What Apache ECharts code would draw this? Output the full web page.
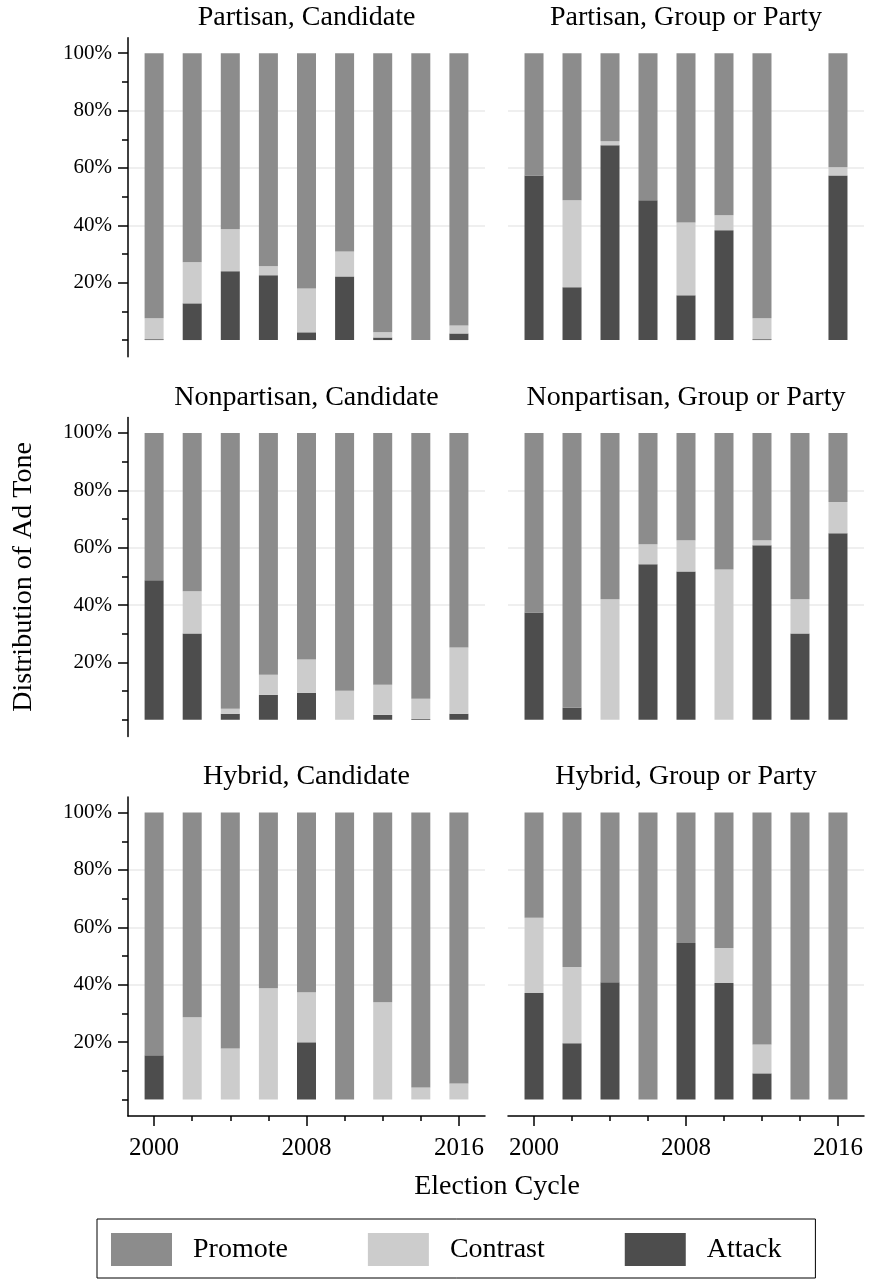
<!DOCTYPE html>
<html>
<head>
<meta charset="utf-8">
<script src="https://cdn.jsdelivr.net/npm/echarts@6/dist/echarts.min.js"></script>
<style>
html,body{margin:0;padding:0;background:#ffffff;}
#chart{width:869px;height:1279px;}
</style>
</head>
<body>
<div id="chart"></div>
<script>
// ---------------- data ----------------
const years = [2000, 2002, 2004, 2006, 2008, 2010, 2012, 2014, 2016];
const xTickMajor = [2000, 2008, 2016];
const xTickMinor = [2002, 2004, 2006, 2010, 2012, 2014];
const yTickMajor = [20, 40, 60, 80, 100];
const yTickMinor = [0, 10, 30, 50, 70, 90];
const seriesNames = ['Promote', 'Contrast', 'Attack'];
const panelTitles = [
  'Partisan, Candidate', 'Partisan, Group or Party',
  'Nonpartisan, Candidate', 'Nonpartisan, Group or Party',
  'Hybrid, Candidate', 'Hybrid, Group or Party'
];
const xAxisTitle = 'Election Cycle';
const yAxisTitle = 'Distribution of Ad Tone';

// Partisan, Candidate
const partisanCandAttack   = [0.3, 12.8, 24.0, 22.6, 2.7, 22.2, 0.9, 0, 2.3];
const partisanCandContrast = [7.3, 14.3, 14.6, 3.1, 15.3, 8.7, 1.8, 0, 2.8];
const partisanCandPromote  = [92.4, 72.9, 61.4, 74.3, 82.0, 69.1, 97.3, 100, 94.9];
// Partisan, Group or Party (no 2014 data)
const partisanGroupAttack   = [57.4, 18.4, 67.9, 48.7, 15.6, 38.3, 0.3, '-', 57.4];
const partisanGroupContrast = [0, 30.3, 1.4, 0, 25.4, 5.2, 7.3, '-', 2.8];
const partisanGroupPromote  = [42.6, 51.3, 30.7, 51.3, 59.0, 56.5, 92.4, '-', 39.8];
// Nonpartisan, Candidate
const nonpartCandAttack   = [48.6, 30.1, 2.1, 8.7, 9.4, 0, 1.7, 0.3, 2.1];
const nonpartCandContrast = [0, 14.7, 1.7, 7.0, 11.6, 10.1, 10.5, 7.0, 23.1];
const nonpartCandPromote  = [51.4, 55.2, 96.2, 84.3, 79.0, 89.9, 87.8, 92.7, 74.8];
// Nonpartisan, Group or Party
const nonpartGroupAttack   = [37.4, 4.2, 0, 54.2, 51.7, 0, 60.8, 30.1, 65.0];
const nonpartGroupContrast = [0, 0, 42.0, 7.0, 10.9, 52.4, 1.8, 11.9, 10.9];
const nonpartGroupPromote  = [62.6, 95.8, 58.0, 38.8, 37.4, 47.6, 37.4, 58.0, 24.1];
// Hybrid, Candidate
const hybridCandAttack   = [15.4, 0, 0, 0, 19.9, 0, 0, 0, 0];
const hybridCandContrast = [0, 28.7, 17.8, 38.8, 17.5, 0, 33.9, 4.2, 5.6];
const hybridCandPromote  = [84.6, 71.3, 82.2, 61.2, 62.6, 100, 66.1, 95.8, 94.4];
// Hybrid, Group or Party
const hybridGroupAttack   = [37.1, 19.6, 40.9, 0, 54.5, 40.6, 9.1, 0, 0];
const hybridGroupContrast = [26.2, 26.6, 0, 0, 0, 12.2, 10.1, 0, 0];
const hybridGroupPromote  = [36.7, 53.8, 59.1, 100, 45.5, 47.2, 80.8, 100, 100];

const panelData = [
  {Attack: partisanCandAttack, Contrast: partisanCandContrast, Promote: partisanCandPromote},
  {Attack: partisanGroupAttack, Contrast: partisanGroupContrast, Promote: partisanGroupPromote},
  {Attack: nonpartCandAttack, Contrast: nonpartCandContrast, Promote: nonpartCandPromote},
  {Attack: nonpartGroupAttack, Contrast: nonpartGroupContrast, Promote: nonpartGroupPromote},
  {Attack: hybridCandAttack, Contrast: hybridCandContrast, Promote: hybridCandPromote},
  {Attack: hybridGroupAttack, Contrast: hybridGroupContrast, Promote: hybridGroupPromote}
];

// ---------------- style / layout ----------------
const FONT = 'Liberation Serif';
const colors = {Promote: '#8c8c8c', Contrast: '#cccccc', Attack: '#4d4d4d'};
const colLeft = [128, 508];
const colWidth = [357, 356];
const rowTop = [37.7, 417.4, 797.1];
const rowHeight = 319;
const xMin = 1998.63, xMax = 2017.37;
const yMin = -5.8, yMax = 105.4;
const axisColor = '#000000';
const gridColor = '#efefef';

const grids = [], xAxes = [], yAxes = [], series = [], titles = [];

for (let r = 0; r < 3; r++) {
  for (let c = 0; c < 2; c++) {
    const g = r * 2 + c;
    grids.push({
      left: colLeft[c], top: rowTop[r], width: colWidth[c], height: rowHeight,
      containLabel: false, outerBoundsMode: 'none'
    });
    titles.push({
      text: panelTitles[g],
      left: colLeft[c] + colWidth[c] / 2,
      top: rowTop[r] - 34,
      textAlign: 'center',
      padding: 0,
      textStyle: {fontFamily: FONT, fontSize: 28, fontWeight: 'normal', color: '#000'}
    });
    const bottomRow = r === 2;
    const mainX = xAxes.length;
    xAxes.push({
      gridIndex: g, type: 'value', min: xMin, max: xMax, position: 'bottom',
      show: bottomRow,
      axisLine: {show: true, onZero: false, lineStyle: {color: axisColor, width: 1.5}},
      axisTick: {show: true, length: 10, customValues: xTickMajor, lineStyle: {color: axisColor, width: 1.5}},
      axisLabel: {show: true, customValues: xTickMajor, margin: 20, fontFamily: FONT, fontSize: 25, color: '#000',
                  formatter: v => String(v)},
      splitLine: {show: false}
    });
    if (bottomRow) {
      xAxes.push({
        gridIndex: g, type: 'value', min: xMin, max: xMax, position: 'bottom',
        axisLine: {show: false, onZero: false},
        axisTick: {show: true, length: 5, customValues: xTickMinor, lineStyle: {color: axisColor, width: 1.5}},
        axisLabel: {show: false},
        splitLine: {show: false}
      });
    }
    const mainY = yAxes.length;
    const leftCol = c === 0;
    yAxes.push({
      gridIndex: g, type: 'value', min: yMin, max: yMax, position: 'left',
      name: (leftCol && r === 1) ? yAxisTitle : '',
      nameLocation: 'middle', nameGap: 90,
      nameTextStyle: {fontFamily: FONT, fontSize: 28, color: '#000'},
      axisLine: {show: leftCol, onZero: false, lineStyle: {color: axisColor, width: 1.5}},
      axisTick: {show: leftCol, length: 10, customValues: yTickMajor, lineStyle: {color: axisColor, width: 1.5}},
      axisLabel: {show: leftCol, customValues: yTickMajor, margin: 16, fontFamily: FONT, fontSize: 21, color: '#000',
                  formatter: v => v + '%'},
      splitLine: {show: true, showMinLine: false, showMaxLine: false, lineStyle: {color: gridColor, width: 2}}
    });
    if (leftCol) {
      yAxes.push({
        gridIndex: g, type: 'value', min: yMin, max: yMax, position: 'left', offset: 0,
        axisLine: {show: false, onZero: false},
        axisTick: {show: true, length: 6, customValues: yTickMinor, lineStyle: {color: axisColor, width: 1.5}},
        axisLabel: {show: false},
        splitLine: {show: false}
      });
    }
    ['Attack', 'Contrast', 'Promote'].forEach(name => {
      const vals = panelData[g][name];
      series.push({
        type: 'bar', name: name, stack: 'panel' + g,
        xAxisIndex: mainX, yAxisIndex: mainY,
        barWidth: 19,
        encode: {x: 1, y: 0},
        itemStyle: {color: colors[name]},
        emphasis: {disabled: true},
        data: years.map((yr, i) => [vals[i], yr])
      });
    });
  }
}

titles.push({
  text: xAxisTitle,
  left: 497, top: 1173, textAlign: 'center', padding: 0,
  textStyle: {fontFamily: FONT, fontSize: 28, fontWeight: 'normal', color: '#000'}
});

const option = {
  animation: false,
  backgroundColor: '#ffffff',
  textStyle: {fontFamily: FONT},
  title: titles,
  legend: {
    data: seriesNames,
    left: 97, top: 1219,
    orient: 'horizontal',
    icon: 'rect',
    itemWidth: 61, itemHeight: 33, itemGap: 80,
    padding: [14, 34, 12, 14],
    borderColor: '#000', borderWidth: 1,
    selectedMode: false,
    textStyle: {fontFamily: FONT, fontSize: 28, color: '#000', padding: [0, 0, 0, 16]}
  },
  grid: grids,
  xAxis: xAxes,
  yAxis: yAxes,
  series: series
};

const chart = echarts.init(document.getElementById('chart'), null, {renderer: 'canvas'});
chart.setOption(option);
</script>
</body>
</html>
